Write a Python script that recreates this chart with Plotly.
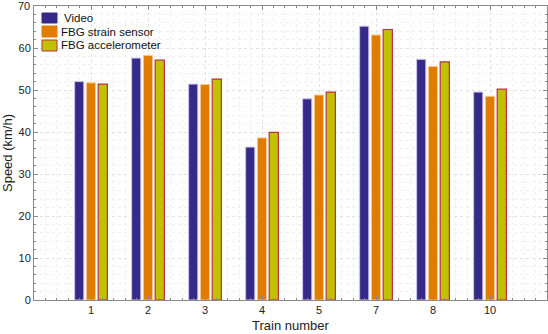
import plotly.graph_objects as go

trains = ["1", "2", "3", "4", "5", "7", "8", "10"]
video = [52.0, 57.6, 51.4, 36.4, 47.9, 65.2, 57.3, 49.5]
strain = [51.7, 58.2, 51.3, 38.6, 48.8, 63.1, 55.6, 48.5]
accel = [51.4, 57.1, 52.6, 39.9, 49.5, 64.4, 56.7, 50.2]

names = ["Video", "FBG strain sensor", "FBG accelerometer"]
fills = ["#352a87", "#e07c00", "#c2c000"]
edges = ["#c8c4e8", "#f4c890", "#b8304a"]

pos = list(range(1, len(trains) + 1))
yticks = [0, 10, 20, 30, 40, 50, 60, 70]

fig = go.Figure()
for name, vals, fc, ec in zip(names, [video, strain, accel], fills, edges):
    fig.add_trace(go.Bar(x=pos, y=vals, name=name,
                         marker=dict(color=fc, line=dict(color=ec, width=1.2 if ec == "#b8304a" else 1))))

tick_font = dict(family="Liberation Sans, Arial", size=11, color="#222")
axis_common = dict(
    showline=True, linecolor="#8a8a8a", linewidth=1, mirror="ticks",
    ticks="inside", ticklen=4, tickcolor="#8a8a8a",
    showgrid=True, gridcolor="#e2e2e2", griddash="dot", gridwidth=1,
    zeroline=False, tickfont=tick_font,
)

# hand-drawn legend (matlab style, compact)
W, H, L, T, B = 548, 334, 34, 6, 34
pw, ph = W - L - 1, H - B - T
def px(x): return (x - L) / pw
def py(y): return (H - B - y) / ph
shapes = []
annots = []
rows = [(13, 23, 62), (26, 37, 59), (40, 51, 59)]
for (y0, y1, tx), name, fc, ec in zip(rows, names, fills, edges):
    shapes.append(dict(type="rect", xref="paper", yref="paper",
                       x0=px(42), x1=px(57), y0=py(y1), y1=py(y0),
                       fillcolor=fc, line=dict(color=ec if ec == "#b8304a" else fc, width=1)))
    annots.append(dict(xref="paper", yref="paper", x=px(tx), y=py((y0 + y1) / 2),
                       xanchor="left", yanchor="middle", text=name, showarrow=False,
                       font=dict(family="Liberation Sans, Arial", size=11.5, color="#111")))

# top tick label sits on the div edge, plotly hides it -> draw it as text
annots.append(dict(xref="paper", yref="y", x=0, y=yticks[-1], xanchor="right",
                   yanchor="middle", xshift=-2, text=str(yticks[-1]), showarrow=False,
                   font=tick_font))

fig.update_layout(
    width=W, height=H,
    margin=dict(l=L, r=1, t=T, b=B),
    plot_bgcolor="white", paper_bgcolor="white",
    barmode="group", bargap=0.38, bargroupgap=0.22,
    showlegend=False,
    shapes=shapes, annotations=annots,
    font=dict(family="Liberation Sans, Arial", size=12, color="#222"),
    xaxis=dict(axis_common, range=[0, 9], tickvals=pos, ticktext=trains,
               title=dict(text="Train number", standoff=5, font=dict(size=13)),
               minor=dict(dtick=0.2, tick0=0, ticks="inside", ticklen=2,
                          tickcolor="#8a8a8a", showgrid=True,
                          gridcolor="#f0f0f0", griddash="dot")),
    yaxis=dict(axis_common, range=[0, 70], tickvals=yticks[:-1],
               title=dict(text="Speed (km/h)", standoff=6, font=dict(size=13)),
               minor=dict(dtick=2, tick0=0, ticks="inside", ticklen=2,
                          tickcolor="#8a8a8a", showgrid=True,
                          gridcolor="#f0f0f0", griddash="dot")),
)

fig.write_html("out.html", config={"displayModeBar": False},
               post_script="document.body.style.margin='0';")
